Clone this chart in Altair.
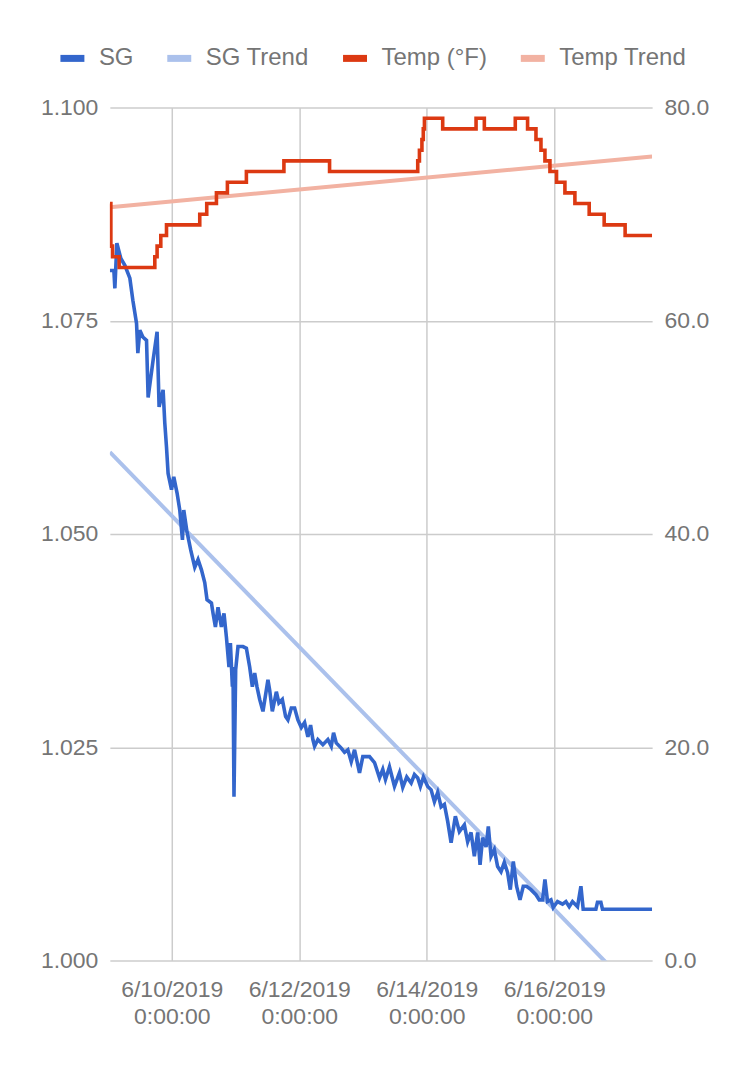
import altair as alt
import pandas as pd

# ---------------- data ----------------
START = pd.Timestamp("2019-06-09 00:00:00")  # hours below are counted from here

sg_hours = [
    0.69, 2.19, 2.57, 3.32, 4.82, 6.33, 8.21, 9.34, 10.73, 11.22,
    11.97, 13.10, 14.49, 15.09, 16.97, 18.47, 19.22, 20.73, 21.37, 22.01,
    22.61, 23.89, 24.75, 25.99, 27.01, 28.02, 28.51, 29.64, 31.14, 32.65,
    33.89, 35.17, 36.41, 37.27, 38.93, 39.53, 40.43, 41.41, 42.69, 43.66,
    44.57, 45.54, 46.07, 46.82, 47.05, 47.42, 48.06, 48.93, 50.81, 52.09,
    53.33, 54.34, 55.21, 56.07, 57.09, 58.33, 60.21, 60.85, 61.86, 63.37,
    64.34, 65.62, 66.86, 67.73, 69.01, 70.25, 71.49, 72.77, 74.01, 75.25,
    76.26, 77.13, 77.77, 79.01, 80.89, 82.77, 84.05, 84.91, 85.93, 87.81,
    89.05, 90.29, 91.57, 92.81, 94.69, 95.93, 98.45, 100.33, 102.21, 103.45,
    104.46, 105.97, 107.85, 109.73, 110.97, 112.47, 114.13, 115.37, 116.61, 117.62,
    118.75, 120.37, 121.65, 122.89, 124.13, 125.41, 126.65, 127.89, 129.17, 130.78,
    132.29, 134.17, 135.41, 136.69, 137.93, 139.17, 140.07, 141.05, 142.33, 143.19,
    144.21, 145.45, 146.69, 147.97, 149.21, 150.45, 151.46, 152.59, 153.83, 155.11,
    156.35, 157.59, 159.25, 161.13, 162.37, 163.61, 164.51, 165.49, 166.77, 167.63,
    169.25, 171.13, 172.41, 173.65, 174.89, 176.77, 178.05, 178.91, 183.69, 184.29,
    185.57, 186.17, 204.86,
]
sg_values = [
    1.0809, 1.0809, 1.0788, 1.0841, 1.0823, 1.0815, 1.0800, 1.0774, 1.0747, 1.0712,
    1.0739, 1.0731, 1.0727, 1.0660, 1.0704, 1.0737, 1.0649, 1.0669, 1.0630, 1.0602,
    1.0571, 1.0552, 1.0567, 1.0548, 1.0528, 1.0493, 1.0528, 1.0504, 1.0481, 1.0461,
    1.0470, 1.0458, 1.0443, 1.0423, 1.0419, 1.0407, 1.0391, 1.0414, 1.0391, 1.0407,
    1.0379, 1.0344, 1.0372, 1.0321, 1.0344, 1.0192, 1.0341, 1.0368, 1.0368, 1.0366,
    1.0344, 1.0321, 1.0337, 1.0321, 1.0306, 1.0292, 1.0329, 1.0317, 1.0292, 1.0315,
    1.0302, 1.0306, 1.0286, 1.0282, 1.0296, 1.0296, 1.0282, 1.0273, 1.0279, 1.0262,
    1.0276, 1.0259, 1.0251, 1.0259, 1.0253, 1.0259, 1.0251, 1.0267, 1.0255, 1.0249,
    1.0244, 1.0247, 1.0233, 1.0247, 1.0220, 1.0239, 1.0239, 1.0232, 1.0214, 1.0224,
    1.0212, 1.0227, 1.0204, 1.0220, 1.0203, 1.0215, 1.0208, 1.0218, 1.0214, 1.0204,
    1.0215, 1.0204, 1.0200, 1.0186, 1.0197, 1.0180, 1.0183, 1.0163, 1.0138, 1.0169,
    1.0151, 1.0159, 1.0139, 1.0150, 1.0122, 1.0150, 1.0112, 1.0144, 1.0133, 1.0157,
    1.0122, 1.0130, 1.0110, 1.0104, 1.0115, 1.0103, 1.0083, 1.0116, 1.0087, 1.0071,
    1.0087, 1.0087, 1.0083, 1.0077, 1.0071, 1.0071, 1.0095, 1.0069, 1.0071, 1.0062,
    1.0069, 1.0066, 1.0069, 1.0063, 1.0069, 1.0063, 1.0087, 1.0060, 1.0060, 1.0068,
    1.0068, 1.0060, 1.0060,
]

temp_hours = [
    0.69, 1.06, 1.70, 4.18, 17.61, 18.47, 19.86, 22.01, 34.53, 37.16,
    40.81, 44.94, 52.09, 66.22, 83.41, 116.61, 117.25, 118.19, 118.70, 119.13,
    126.01, 138.57, 141.69, 153.34, 157.97, 161.13, 163.01, 164.51, 166.39, 168.87,
    172.03, 175.79, 181.17, 186.81, 194.70, 204.86,
]
temp_values = [
    71, 67, 66, 65, 66, 67, 68, 69, 70, 71,
    72, 73, 74, 75, 74, 75, 76, 77, 78, 79,
    78, 79, 78, 79, 78, 77, 76, 75, 74, 73,
    72, 71, 70, 69, 68, 68,
]

sg_trend_hours = [0.69, 204.86]
sg_trend_values = [1.0596, 0.9942]
temp_trend_hours = [0.69, 204.86]
temp_trend_values = [70.66, 75.42]

series_names = ["SG", "SG Trend", "Temp (°F)", "Temp Trend"]
series_colors = ["#3366cc", "#abc1ec", "#dc3912", "#f2b2a2"]

sg_ticks = [1.0, 1.025, 1.05, 1.075, 1.1]
temp_ticks = [0, 20, 40, 60, 80]
date_tick_days = [10, 12, 14, 16]

FONT = "Liberation Sans, Arial, sans-serif"
GREY = "#757575"


def frame(hours, values, name):
    return pd.DataFrame({
        "time": START + pd.to_timedelta(hours, unit="h"),
        "value": values,
        "series": name,
    })


sg_df = frame(sg_hours, sg_values, series_names[0])
sg_trend_df = frame(sg_trend_hours, sg_trend_values, series_names[1])
temp_df = frame(temp_hours, temp_values, series_names[2])
temp_trend_df = frame(temp_trend_hours, temp_trend_values, series_names[3])

x_enc = alt.X(
    "time:T",
    scale=alt.Scale(
        domain=[
            alt.DateTime(year=2019, month=6, date=9, hours=0, minutes=41),
            alt.DateTime(year=2019, month=6, date=17, hours=12, minutes=52),
        ],
        nice=False,
    ),
    axis=alt.Axis(
        title=None,
        values=[alt.DateTime(year=2019, month=6, date=d) for d in date_tick_days],
        labelExpr="[timeFormat(datum.value, '%-m/%-d/%Y'), '0:00:00']",
        labelLineHeight=27,
        labelPadding=18,
        labelAngle=0,
        labelAlign="center",
        labelOverlap=False,
        labelFlush=False,
        grid=True,
    ),
)

color_enc = alt.Color(
    "series:N",
    scale=alt.Scale(domain=series_names, range=series_colors),
    legend=alt.Legend(
        title=None,
        orient="none",
        legendX=-53,
        legendY=-65,
        direction="horizontal",
        symbolType="stroke",
        symbolStrokeWidth=7,
        symbolSize=576,
        labelFont=FONT,
        labelFontSize=24,
        labelColor=GREY,
        labelOffset=11,
        columnPadding=19,
        padding=0,
    ),
)

sg_scale = alt.Scale(domain=[1.0, 1.1], nice=False, zero=False)
temp_scale = alt.Scale(domain=[0, 80], nice=False, zero=False)

sg_trend = alt.Chart(sg_trend_df).mark_line(strokeWidth=4, clip=True).encode(
    x=x_enc,
    y=alt.Y("value:Q", scale=sg_scale, axis=None),
    color=color_enc,
)

temp_trend = alt.Chart(temp_trend_df).mark_line(strokeWidth=4, clip=True).encode(
    x=x_enc,
    y=alt.Y("value:Q", scale=temp_scale, axis=None),
    color=color_enc,
)

sg_line = alt.Chart(sg_df).mark_line(strokeWidth=3.6, clip=True).encode(
    x=x_enc,
    y=alt.Y(
        "value:Q",
        scale=sg_scale,
        axis=alt.Axis(
            orient="left",
            title=None,
            values=sg_ticks,
            format=".3f",
            grid=True,
            labelPadding=12,
        ),
    ),
    color=color_enc,
)

temp_line = alt.Chart(temp_df).mark_line(
    strokeWidth=3.6, interpolate="step-after", clip=True
).encode(
    x=x_enc,
    y=alt.Y(
        "value:Q",
        scale=temp_scale,
        axis=alt.Axis(
            orient="right",
            title=None,
            values=temp_ticks,
            format=".1f",
            grid=False,
            labelPadding=12,
        ),
    ),
    color=color_enc,
)

chart = (
    alt.layer(sg_trend, temp_trend, sg_line, temp_line)
    .resolve_scale(y="independent")
    .properties(
        width=543,
        height=854,
        background="white",
        autosize=alt.AutoSizeParams(type="none"),
        padding={"left": 102, "top": 99, "right": 90, "bottom": 90},
    )
    .configure_view(stroke=None)
    .configure_axis(
        domain=False,
        ticks=False,
        labelFont=FONT,
        labelFontSize=23,
        labelColor=GREY,
        gridColor="#cccccc",
        gridWidth=1.5,
    )
)

chart.save("out.html", embed_options={"renderer": "svg", "actions": False})
